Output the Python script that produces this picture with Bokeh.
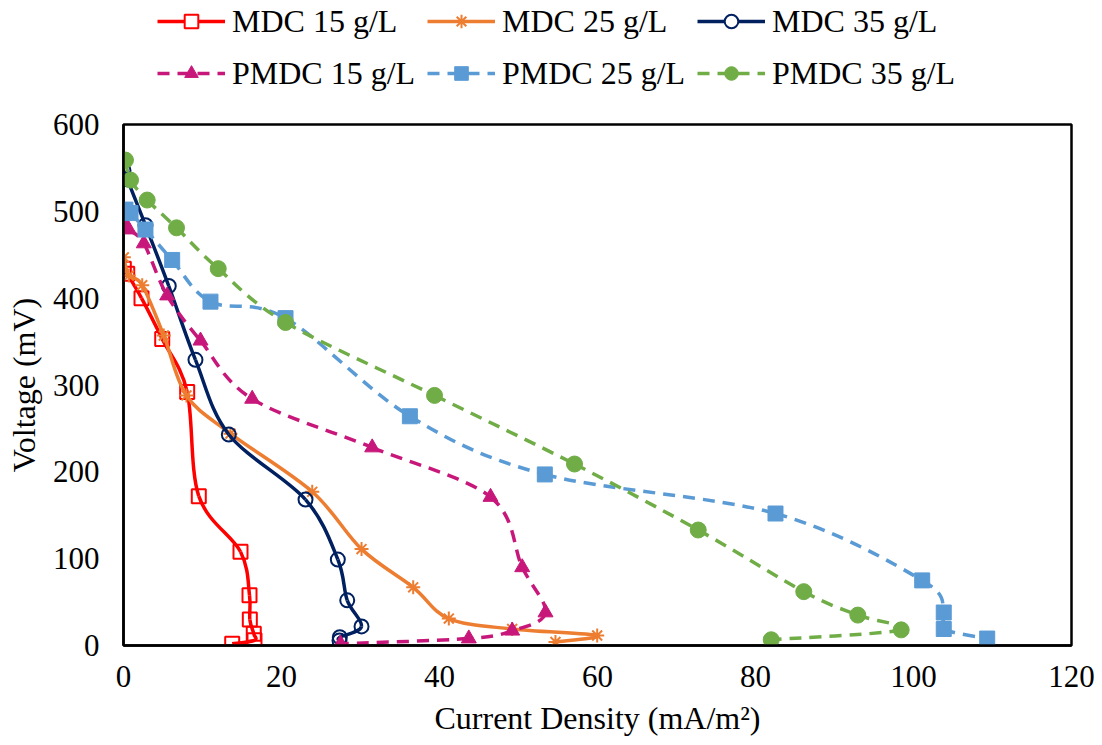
from bokeh.plotting import figure
from bokeh.layouts import column
from bokeh.models import ColumnDataSource, Legend, LegendItem, Range1d, FixedTicker
from bokeh.embed import file_html
from bokeh.resources import INLINE

# ---- data ----
mdc15_x = [0.04, 0.47, 2.28, 4.90, 8.06, 9.53, 14.81, 15.95, 15.99, 16.49, 16.58, 13.76]
mdc15_y = [434, 428, 400, 353, 292, 172, 108, 58, 30, 13.5, 6, 2]

mdc25_x = [0.04, 0.67, 2.37, 5.10, 7.97, 13.54, 23.89, 30.13, 36.67, 41.18, 49.20, 59.96, 54.68]
mdc25_y = [447, 426, 415, 357, 288, 244, 177, 111, 67, 31, 19, 11.5, 4]

mdc35_x = [0.0, 0.47, 2.78, 5.73, 9.11, 13.33, 23.04, 27.13, 28.32, 30.13, 27.38, 27.34]
mdc35_y = [547, 537, 484, 414, 329, 243, 168, 99, 52, 22, 9.6, 5.8]

pmdc15_x = [0.04, 0.67, 2.57, 5.53, 9.75, 16.29, 31.48, 46.46, 50.47, 53.42, 49.20, 43.71, 27.47]
pmdc15_y = [488, 479, 463, 403, 351, 284, 228, 171, 90, 38, 17, 8, 2]

pmdc25_x = [0.25, 0.89, 2.78, 6.16, 11.01, 20.51, 36.25, 53.33, 82.53, 101.10, 103.83, 103.83, 109.33]
pmdc25_y = [502, 498, 479, 444, 396, 377, 264, 197, 152, 75, 38, 19, 8]

pmdc35_x = [0.25, 0.89, 3.00, 6.71, 11.99, 20.51, 39.37, 57.09, 72.75, 86.11, 92.95, 98.44, 81.99]
pmdc35_y = [559, 536, 513, 481, 434, 372, 288, 209, 133, 62, 35, 18, 6.6]

series_names = ["MDC 15 g/L", "MDC 25 g/L", "MDC 35 g/L",
                "PMDC 15 g/L", "PMDC 25 g/L", "PMDC 35 g/L"]
x_ticks = [0, 20, 40, 60, 80, 100, 120]
y_ticks = [0, 100, 200, 300, 400, 500, 600]

FONT = "Liberation Serif"
LEG_H = 104
TOP_PAD = 20


def smooth_source(xs, ys):
    """Bezier segments through the data points (Excel-like smoothed line)."""
    n = len(xs)
    d = dict(x0=[], y0=[], x1=[], y1=[], cx0=[], cy0=[], cx1=[], cy1=[])
    for i in range(n - 1):
        p0 = (xs[max(i - 1, 0)], ys[max(i - 1, 0)])
        p1 = (xs[i], ys[i])
        p2 = (xs[i + 1], ys[i + 1])
        p3 = (xs[min(i + 2, n - 1)], ys[min(i + 2, n - 1)])
        d["x0"].append(p1[0]); d["y0"].append(p1[1])
        d["x1"].append(p2[0]); d["y1"].append(p2[1])
        d["cx0"].append(p1[0] + (p2[0] - p0[0]) / 6.0)
        d["cy0"].append(p1[1] + (p2[1] - p0[1]) / 6.0)
        d["cx1"].append(p2[0] - (p3[0] - p1[0]) / 6.0)
        d["cy1"].append(p2[1] - (p3[1] - p1[1]) / 6.0)
    return ColumnDataSource(d)


# ---------------- main chart ----------------
p = figure(width=1102, height=745 - LEG_H, frame_width=948, frame_height=521,
           output_backend="svg", toolbar_location=None,
           x_range=Range1d(0, 120), y_range=Range1d(0, 600),
           min_border_left=123, min_border_right=31,
           min_border_top=TOP_PAD, min_border_bottom=100)

p.background_fill_color = "white"
p.border_fill_color = "white"
p.outline_line_color = "black"
p.outline_line_width = 2.5
p.outline_line_alpha = 1.0
p.xgrid.visible = False
p.ygrid.visible = False

for ax in (p.xaxis[0], p.yaxis[0]):
    ax.axis_line_color = "black"
    ax.axis_line_width = 2.5
    ax.major_tick_out = 0
    ax.major_tick_in = 0
    ax.minor_tick_out = 0
    ax.minor_tick_in = 0
    ax.major_label_text_font = FONT
    ax.major_label_text_font_size = "31px"
    ax.major_label_text_color = "black"
    ax.axis_label_text_font = FONT
    ax.axis_label_text_font_size = "32px"
    ax.axis_label_text_font_style = "normal"
    ax.axis_label_text_color = "black"

p.xaxis.ticker = FixedTicker(ticks=x_ticks)
p.yaxis.ticker = FixedTicker(ticks=y_ticks)
p.xaxis.axis_label = "Current Density (mA/m²)"
p.yaxis.axis_label = "Voltage (mV)"
p.xaxis.major_label_standoff = 20
p.yaxis.major_label_standoff = 24
p.xaxis.axis_label_standoff = 10
p.yaxis.axis_label_standoff = 8

specs = [
    (mdc15_x, mdc15_y, "#FF0000", "solid", "square", None, 14, 2.0),
    (mdc25_x, mdc25_y, "#ED7D31", "solid", "asterisk", None, 14, 2.0),
    (mdc35_x, mdc35_y, "#002060", "solid", "circle", None, 14, 2.0),
    (pmdc15_x, pmdc15_y, "#C8177A", "12 8", "triangle", "#C8177A", 15, 1.0),
    (pmdc25_x, pmdc25_y, "#5B9BD5", "12 8", "square", "#5B9BD5", 15, 1.0),
    (pmdc35_x, pmdc35_y, "#70AD47", "12 8", "circle", "#70AD47", 16, 1.0),
]

# ---------------- legend strip (separate figure on top) ----------------
# its ranges lie far from the data, so the series drawn here only feed the legend
lg = figure(width=1102, height=LEG_H, output_backend="svg", toolbar_location=None,
            x_range=Range1d(1000, 1001), y_range=Range1d(1000, 1001),
            x_axis_type=None, y_axis_type=None,
            min_border_left=0, min_border_right=0, min_border_top=0, min_border_bottom=0)
lg.outline_line_color = None
lg.xgrid.visible = False
lg.ygrid.visible = False
lg.background_fill_color = "white"
lg.border_fill_color = "white"

items = {}
for (xs, ys, col, dash, marker, fill, size, mlw), name in zip(specs, series_names):
    p.bezier(x0="x0", y0="y0", x1="x1", y1="y1", cx0="cx0", cy0="cy0",
             cx1="cx1", cy1="cy1", source=smooth_source(xs, ys),
             line_color=col, line_width=3.5, line_dash=dash)
    p.scatter(xs, ys, marker=marker, size=size, line_color=col,
              line_width=mlw, fill_color=fill, fill_alpha=1.0 if fill else 0.0)
    lr = lg.line(xs, ys, line_color=col, line_width=3.5, line_dash=dash)
    sr = lg.scatter(xs, ys, marker=marker, size=size, line_color=col,
                    line_width=mlw, fill_color=fill if fill else "white")
    items[name] = LegendItem(label=name, renderers=[lr, sr], index=0)

# legend fills column by column: order so that rows read MDC / PMDC
order = ["MDC 15 g/L", "PMDC 15 g/L", "MDC 25 g/L", "PMDC 25 g/L",
         "MDC 35 g/L", "PMDC 35 g/L"]
legend = Legend(items=[items[n] for n in order], ncols=3, location=(34, 7),
                label_text_font=FONT, label_text_font_size="32px",
                label_text_color="black",
                glyph_width=68, glyph_height=34, label_standoff=7,
                label_width=191, label_height=48, spacing=4,
                padding=0, margin=0, border_line_color=None,
                background_fill_alpha=0.0)
lg.add_layout(legend, "center")

layout = column(lg, p, spacing=0)
open("out.html", "w").write(file_html(layout, INLINE))
